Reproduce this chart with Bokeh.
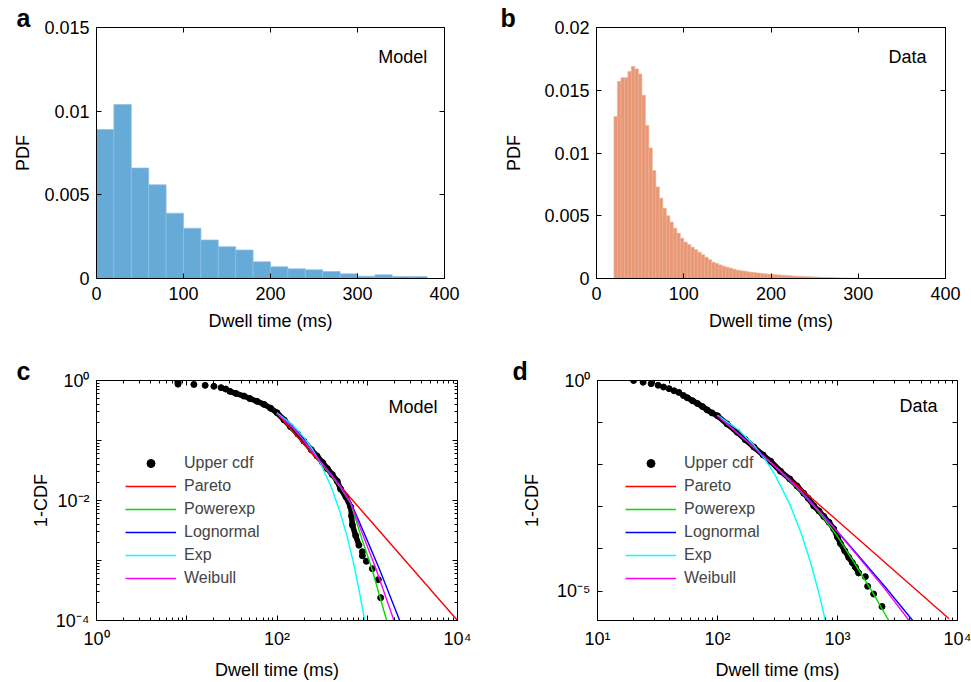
from bokeh.plotting import figure
from bokeh.models import (LinearAxis, LogAxis, FixedTicker, Label, Legend, LegendItem,
                          CustomJSTickFormatter)
from bokeh.layouts import column, row
from bokeh.embed import file_html
from bokeh.resources import INLINE

FONT = "Liberation Sans"

# ---------------- data ----------------
# panel a: model dwell-time histogram (20 ms bins)
a_edges = [0, 20, 40, 60, 80, 100, 120, 140, 160, 180, 200, 220, 240, 260, 280, 300, 320, 340, 360, 380, 400]
a_pdf = [0.0089, 0.0104, 0.0066, 0.0056, 0.0039, 0.0030, 0.0023, 0.0019, 0.0017, 0.0010,
         0.0007, 0.00058, 0.00052, 0.00042, 0.00028, 0.00014, 0.00022, 0.00012, 0.00012, 0.0]

# panel b: data dwell-time histogram (4 ms bins from 20 ms)
b_bin_width = 4
b_left = list(range(20, 300, 4))
b_pdf = [0.0129, 0.0157, 0.0160, 0.0160, 0.0165, 0.0169, 0.0167, 0.0163, 0.0146, 0.0122,
         0.0104, 0.0086, 0.0073, 0.0064, 0.0056, 0.0050, 0.0045, 0.0040, 0.0036, 0.0032,
         0.0029, 0.0027, 0.0025, 0.0023, 0.0021, 0.0019, 0.0017, 0.0015, 0.0013, 0.0012,
         0.00108, 0.00098, 0.00090, 0.00082, 0.00074, 0.00066, 0.00062, 0.00058, 0.00053, 0.00049,
         0.00046, 0.00043, 0.00040, 0.00037, 0.00034, 0.00032, 0.00030, 0.00028, 0.00026, 0.00024,
         0.00022, 0.00020, 0.00018, 0.00017, 0.00016, 0.00014, 0.00013, 0.00012, 0.00011, 0.00010,
         0.00009, 0.00008, 0.00007, 0.00006, 0.00005, 0.00004, 0.00004, 0.00003, 0.00003, 0.00002]

# panel c: model upper cdf (1-CDF) and fits
c_head_x = [8, 8, 8, 8, 12, 16, 20, 24, 27]
c_head_y = [1.0, 0.95, 0.91, 0.87, 0.86, 0.83, 0.80, 0.76, 0.72]
c_band_x = [30, 35, 43, 50, 60, 72, 85, 100, 120, 141, 170, 198, 240, 278, 320, 361, 410, 465,
            507, 580, 655, 670, 684, 744, 809]
c_band_y = [0.66, 0.61, 0.55, 0.50, 0.45, 0.40, 0.345, 0.29, 0.22, 0.17, 0.128, 0.098, 0.07,
            0.055, 0.043, 0.034, 0.027, 0.021, 0.0155, 0.0115, 0.0078, 0.0055, 0.0039, 0.0026, 0.0018]
c_tail_x = [883, 883, 977, 1138, 1327, 1408]
c_tail_y = [0.0014, 0.0012, 0.00097, 0.00073, 0.00048, 0.00024]

c_pareto_x = [100, 1000, 10000]
c_pareto_y = [0.283, 0.0053, 0.0001]
c_powerexp_x = [100, 150, 200, 300, 400, 500, 655, 845, 1119, 1641]
c_powerexp_y = [0.28, 0.163, 0.097, 0.044, 0.026, 0.0168, 0.0090, 0.00265, 0.00075, 0.0001]
c_lognormal_x = [100, 150, 200, 300, 400, 500, 655, 944, 1349, 2287]
c_lognormal_y = [0.28, 0.165, 0.098, 0.045, 0.027, 0.0175, 0.0094, 0.00265, 0.00075, 0.0001]
c_exp_x = [100, 150, 200, 250, 300, 400, 500, 600, 700, 800, 900, 935]
c_exp_y = [0.29, 0.18, 0.112, 0.0695, 0.0431, 0.0166, 0.0064, 0.00246, 0.00095, 0.00036, 0.00014, 0.0001]
c_weibull_x = [100, 150, 200, 300, 400, 500, 655, 896, 1239, 1977]
c_weibull_y = [0.28, 0.165, 0.098, 0.045, 0.027, 0.0173, 0.0092, 0.00265, 0.00075, 0.0001]

# panel d: data upper cdf (1-CDF) and fits
d_head_x = [20, 24, 28, 32, 35.5, 39.5, 43.5, 47.7]
d_head_y = [1.0, 0.91, 0.84, 0.77, 0.70, 0.64, 0.57, 0.52]
d_band_x = [52, 56, 62, 68, 75, 82, 90, 100, 120, 146, 170, 201, 240, 277, 335, 400, 461, 523,
            570, 634, 700, 768, 850, 930, 1000, 1057, 1150, 1240, 1330, 1408, 1500]
d_band_y = [0.44, 0.39, 0.33, 0.285, 0.24, 0.20, 0.17, 0.145, 0.093, 0.059, 0.0395, 0.0262, 0.017,
            0.0121, 0.0070, 0.0046, 0.0031, 0.0021, 0.0016, 0.00105, 0.0008, 0.00059, 0.00043,
            0.0003, 0.00019, 0.000135, 9.0e-5, 6.3e-5, 4.7e-5, 3.7e-5, 2.7e-5]
d_tail_x = [1706, 1783, 2000, 2349]
d_tail_y = [2.2e-5, 1.3e-5, 8.5e-6, 4.3e-6]

d_pareto_x = [100, 1000, 8500]
d_pareto_y = [0.147, 0.000465, 2.2e-6]
d_powerexp_x = [100, 200, 300, 450, 634, 800, 1000, 1500, 2000, 2670]
d_powerexp_y = [0.147, 0.026, 0.0092, 0.003, 0.00105, 4.6e-4, 2e-4, 3.2e-5, 8.5e-6, 2e-6]
d_lognormal_x = [100, 200, 300, 450, 634, 1000, 1500, 2500, 4230]
d_lognormal_y = [0.147, 0.026, 0.0092, 0.0031, 0.0011, 2.6e-4, 6.8e-5, 1.25e-5, 2e-6]
d_exp_x = [100, 150, 200, 250, 300, 400, 500, 600, 700, 790]
d_exp_y = [0.15, 0.0668, 0.0297, 0.0132, 0.0059, 0.00116, 0.00023, 4.5e-5, 8.9e-6, 2.07e-6]
d_weibull_x = [100, 200, 300, 450, 634, 1000, 1500, 2500, 3950]
d_weibull_y = [0.147, 0.026, 0.0092, 0.0031, 0.0011, 2.55e-4, 6.4e-5, 1.1e-5, 2e-6]

fit_names = ["Pareto", "Powerexp", "Lognormal", "Exp", "Weibull"]
fit_colors = ["#ff0000", "#00dd00", "#0000ff", "#00ffff", "#ff00ff"]

# ticks
a_xticks = [0, 100, 200, 300, 400]
a_yticks = [0, 0.005, 0.01, 0.015]
b_yticks = [0, 0.005, 0.01, 0.015, 0.02]
c_xdec = [1, 10, 100, 1000, 10000]
c_xlabels = ["10⁰", "", "10²", "", "10⁴"]
c_ydec = [1e-4, 1e-3, 1e-2, 1e-1, 1]
c_ylabels = ["10⁻⁴", "", "10⁻²", "", "10⁰"]
d_xdec = [10, 100, 1000, 10000]
d_xlabels = ["10¹", "10²", "10³", "10⁴"]
d_ydec = [1e-5, 1e-4, 1e-3, 1e-2, 1e-1, 1]
d_ylabels = ["10⁻⁵", "", "", "", "", "10⁰"]


def minors(decades):
    out = []
    for d in decades[:-1]:
        out += [d * k for k in range(2, 10)]
    return out


# ---------------- helpers ----------------
def base_fig(w, h, xr, yr, borders, tag, tag_offset, log=False):
    l, r, t, b = borders
    kind = "log" if log else "linear"
    p = figure(width=w, height=h, x_range=xr, y_range=yr, x_axis_type=kind, y_axis_type=kind,
               toolbar_location=None, output_backend="svg",
               min_border_left=l, min_border_right=r, min_border_top=t, min_border_bottom=b)
    p.xgrid.visible = False
    p.ygrid.visible = False
    p.outline_line_color = "black"
    p.outline_line_alpha = 1.0
    p.outline_line_width = 1
    p.background_fill_color = "white"
    p.border_fill_color = "white"
    # panel letter as title
    p.title.text = tag
    p.title.text_font = FONT
    p.title.text_font_size = "25px"
    p.title.text_font_style = "bold"
    p.title.text_color = "black"
    p.title.align = "left"
    p.title.offset = tag_offset
    p.title.standoff = -9
    return p


def style_axis(ax, ticks, minor, fmt, label=None, standoff=6, label_standoff=10, hide=False):
    ax.ticker = FixedTicker(ticks=ticks, minor_ticks=minor)
    ax.formatter = fmt
    ax.major_tick_in = 5
    ax.major_tick_out = 0
    ax.minor_tick_in = 3
    ax.minor_tick_out = 0
    ax.axis_line_color = "black"
    ax.major_tick_line_color = "black"
    ax.minor_tick_line_color = "black"
    ax.major_label_text_font = FONT
    ax.major_label_text_font_size = "0px" if hide else "18px"
    ax.major_label_text_color = "black"
    ax.major_label_standoff = standoff
    if label:
        ax.axis_label = label
        ax.axis_label_text_font = FONT
        ax.axis_label_text_font_size = "18px"
        ax.axis_label_text_font_style = "normal"
        ax.axis_label_text_color = "black"
        ax.axis_label_standoff = label_standoff


def lin_fmt():
    return CustomJSTickFormatter(code="return tick.toString();")


def log_fmt(decades, labels):
    return CustomJSTickFormatter(args=dict(decs=decades, labs=labels), code="""
        for (let i = 0; i < decs.length; i++) {
            if (Math.abs(Math.log10(tick) - Math.log10(decs[i])) < 1e-6) return labs[i];
        }
        return '';
    """)


def blank_fmt():
    return CustomJSTickFormatter(code="return '';")


def frame_axes(p, xt, xm, yt, ym, xfmt, yfmt, xlabel, ylabel, log=False, ylab_standoff=12):
    style_axis(p.xaxis[0], xt, xm, xfmt, xlabel, standoff=8, label_standoff=8)
    style_axis(p.yaxis[0], yt, ym, yfmt, ylabel, standoff=7, label_standoff=ylab_standoff)
    Ax = LogAxis if log else LinearAxis
    top = Ax()
    style_axis(top, xt, xm, blank_fmt(), standoff=0, hide=True)
    p.add_layout(top, "above")
    right = Ax()
    style_axis(right, yt, ym, blank_fmt(), standoff=0, hide=True)
    p.add_layout(right, "right")


def add_text(p, text, sx, sy, size="18px"):
    p.add_layout(Label(x=sx, y=sy, x_units="screen", y_units="screen", text=text,
                       text_font=FONT, text_font_size=size, text_align="left",
                       text_baseline="middle", text_color="black"))


# ---------------- panel a ----------------
pa = base_fig(480, 340, (0, 400), (0, 0.015), (96, 36, 27, 62), "a", -80)
pa.quad(left=a_edges[:-1], right=a_edges[1:], bottom=0, top=a_pdf,
        fill_color="#66aad7", line_color="#8cc0e3", line_width=0.7)
frame_axes(pa, a_xticks, [], a_yticks, [], lin_fmt(), lin_fmt(), "Dwell time (ms)", "PDF",
           ylab_standoff=8)
add_text(pa, "Model", 281.7, 221.3)

# ---------------- panel b ----------------
pb = base_fig(491, 340, (0, 400), (0, 0.02), (116, 26, 27, 62), "b", -96)
pb.quad(left=b_left, right=[v + b_bin_width for v in b_left], bottom=0, top=b_pdf,
        fill_color="#e89875", line_color="#eeae92", line_width=0.6)
frame_axes(pb, a_xticks, [], b_yticks, [], lin_fmt(), lin_fmt(), "Dwell time (ms)", "PDF",
           ylab_standoff=17)
add_text(pb, "Data", 292, 221.3)


# ---------------- panels c, d ----------------
def cdf_panel(w, h, xr, yr, borders, head, band, tail, fits, xdec, xlabels, ydec, ylabels,
              yminor, legend_loc, tag, tag_offset, name_pos, ylab_standoff):
    p = base_fig(w, h, xr, yr, borders, tag, tag_offset, log=True)
    p.line(band[0], band[1], line_color="black", line_width=5.5)
    r_dots = p.scatter(head[0], head[1], size=6, color="black")
    p.scatter(band[0], band[1], size=6, color="black")
    p.scatter(tail[0], tail[1], size=6, color="black")
    items = [LegendItem(label="Upper cdf", renderers=[r_dots])]
    for (fx, fy), nm, col in zip(fits, fit_names, fit_colors):
        r = p.line(fx, fy, line_color=col, line_width=1.4)
        items.append(LegendItem(label=nm, renderers=[r]))
    leg = Legend(items=items, location=legend_loc, border_line_alpha=0, background_fill_alpha=0,
                 padding=0, margin=0, spacing=3, glyph_width=51, glyph_height=20, label_height=20,
                 label_standoff=8, label_text_font=FONT, label_text_font_size="16px")
    p.add_layout(leg)
    frame_axes(p, xdec, minors(xdec), ydec, yminor, log_fmt(xdec, xlabels), log_fmt(ydec, ylabels),
               "Dwell time (ms)", "1-CDF", log=True, ylab_standoff=ylab_standoff)
    add_text(p, name_pos[2], name_pos[0], name_pos[1])
    return p


pc = cdf_panel(480, 342, (1, 1e4), (1e-4, 1), (96, 23, 40, 59),
               (c_head_x, c_head_y), (c_band_x, c_band_y), (c_tail_x, c_tail_y),
               [(c_pareto_x, c_pareto_y), (c_powerexp_x, c_powerexp_y),
                (c_lognormal_x, c_lognormal_y), (c_exp_x, c_exp_y), (c_weibull_x, c_weibull_y)],
               c_xdec, c_xlabels, c_ydec, c_ylabels, minors(c_ydec), (29, 32), "c", -80,
               (292, 214, "Model"), 2)

pd_ = cdf_panel(491, 342, (10, 1e4), (2e-6, 1), (117, 14, 40, 58),
                (d_head_x, d_head_y), (d_band_x, d_band_y), (d_tail_x, d_tail_y),
                [(d_pareto_x, d_pareto_y), (d_powerexp_x, d_powerexp_y),
                 (d_lognormal_x, d_lognormal_y), (d_exp_x, d_exp_y), (d_weibull_x, d_weibull_y)],
                d_xdec, d_xlabels, d_ydec, d_ylabels, [], (28, 32), "d", -85,
                (302, 215, "Data"), 12)

layout = column(row(pa, pb), row(pc, pd_))
open("out.html", "w").write(file_html(layout, INLINE, title="Dwell time distributions"))
